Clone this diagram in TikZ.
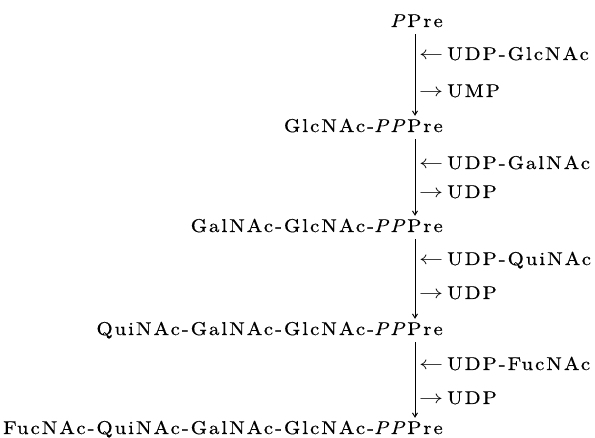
\RequirePackage{fix-cm}
\documentclass[tikz,border=0pt]{standalone}
\usepackage{graphicx}
\usepackage{fontspec}
\setmainfont{lmroman10-regular.otf}[ItalicFont=lmroman10-italic.otf, LetterSpace=11, RawFeature={embolden=0.6;extend=1.12}]
\usetikzlibrary{arrows.meta}
\newcommand{\la}{\makebox[28pt][l]{\scalebox{1.3}[1]{$\leftarrow$}}}
\newcommand{\ra}{\makebox[28pt][l]{\scalebox{1.3}[1]{$\rightarrow$}}}
\begin{document}
\begin{tikzpicture}[x=1pt,y=-1pt,
  rowtext/.style={anchor=base east, inner sep=2pt, text height=12pt, text depth=0pt, font=\fontsize{18.5}{21}\selectfont},
  lbl/.style={anchor=base west, inner sep=0pt, font=\fontsize{18.5}{21}\selectfont},
  conn/.style={line width=1pt, -{Straight Barb[length=4pt,width=5pt]}, shorten <=5pt, shorten >=2pt}]
\useasboundingbox (0,0) rectangle (595,438);
\coordinate (ax) at (415,0);
\node[rowtext] (r1) at (445,27) {\textit{P}Pre};
\node[rowtext] (r2) at (445,132) {GlcNAc-\textit{PP}Pre};
\node[rowtext] (r3) at (445,232) {GalNAc-GlcNAc-\textit{PP}Pre};
\node[rowtext] (r4) at (445,335) {QuiNAc-GalNAc-GlcNAc-\textit{PP}Pre};
\node[rowtext] (r5) at (445,434) {FucNAc-QuiNAc-GalNAc-GlcNAc-\textit{PP}Pre};
\draw[conn] (r1.south -| ax) -- (r2.north -| ax);
\draw[conn] (r2.south -| ax) -- (r3.north -| ax);
\draw[conn] (r3.south -| ax) -- (r4.north -| ax);
\draw[conn] (r4.south -| ax) -- (r5.north -| ax);
\node[lbl] (a1) at (419,60) {\la UDP-GlcNAc};
\node[lbl] (b1) at (419,97) {\ra UMP};
\node[lbl] (a2) at (419,169) {\la UDP-GalNAc};
\node[lbl] (b2) at (419,198) {\ra UDP};
\node[lbl] (a3) at (419,265) {\la UDP-QuiNAc};
\node[lbl] (b3) at (419,299) {\ra UDP};
\node[lbl] (a4) at (419,370) {\la UDP-FucNAc};
\node[lbl] (b4) at (419,404) {\ra UDP};
\end{tikzpicture}
\end{document}
